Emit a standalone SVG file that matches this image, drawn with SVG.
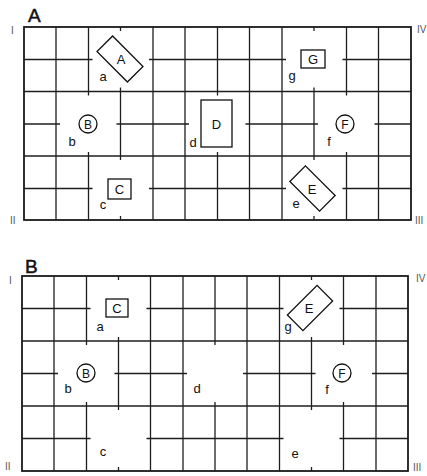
<svg xmlns="http://www.w3.org/2000/svg" width="427" height="476" viewBox="0 0 427 476">
<style>
.g line{stroke:#1e1e1e;stroke-width:1.3;fill:none}
.frame{stroke:#1a1a1a;stroke-width:1.8;fill:none}
.obj{stroke:#111;stroke-width:1.3;fill:#fff}
text{font-family:"Liberation Sans",Arial,sans-serif;fill:#111}
.lbl{font-size:13px;text-anchor:middle}
.ol{font-size:12px;text-anchor:middle}
.hd{font-size:19px;stroke:#111;stroke-width:0.5}
.rn{font-size:10px;fill:#555}
</style>
<rect width="427" height="476" fill="#fff"/>

<!-- Panel A -->
<g id="panelA">
<text class="hd" x="28" y="22">A</text>
<text class="rn" x="11" y="34">I</text>
<text class="rn" x="417" y="33">IV</text>
<text class="rn" x="10" y="224">II</text>
<text class="rn" x="415" y="224">III</text>
<g class="g" id="gridA">
<rect class="frame" x="24" y="27" width="387" height="193"/>
<line x1="56" y1="27" x2="56" y2="220"/>
<line x1="88.5" y1="27" x2="88.5" y2="95.5"/><line x1="88.5" y1="152" x2="88.5" y2="220"/>
<line x1="120.5" y1="27" x2="120.5" y2="31"/><line x1="120.5" y1="87.5" x2="120.5" y2="160"/><line x1="120.5" y1="216" x2="120.5" y2="220"/>
<line x1="153" y1="27" x2="153" y2="220"/>
<line x1="185" y1="27" x2="185" y2="220"/>
<line x1="217.5" y1="27" x2="217.5" y2="95.5"/><line x1="217.5" y1="152" x2="217.5" y2="220"/>
<line x1="249.5" y1="27" x2="249.5" y2="220"/>
<line x1="282" y1="27" x2="282" y2="220"/>
<line x1="314" y1="27" x2="314" y2="31"/><line x1="314" y1="87.5" x2="314" y2="160"/><line x1="314" y1="216" x2="314" y2="220"/>
<line x1="346.5" y1="27" x2="346.5" y2="95.5"/><line x1="346.5" y1="152" x2="346.5" y2="220"/>
<line x1="378.5" y1="27" x2="378.5" y2="220"/>
<line x1="24" y1="59.5" x2="92.5" y2="59.5"/><line x1="149" y1="59.5" x2="286" y2="59.5"/><line x1="342.5" y1="59.5" x2="411" y2="59.5"/>
<line x1="24" y1="91.5" x2="411" y2="91.5"/>
<line x1="24" y1="124" x2="60" y2="124"/><line x1="116.5" y1="124" x2="189" y2="124"/><line x1="245.5" y1="124" x2="318" y2="124"/><line x1="374.5" y1="124" x2="411" y2="124"/>
<line x1="24" y1="156" x2="411" y2="156"/>
<line x1="24" y1="188.5" x2="92.5" y2="188.5"/><line x1="149" y1="188.5" x2="286" y2="188.5"/><line x1="342.5" y1="188.5" x2="411" y2="188.5"/>
</g>
<g id="A-objA"><rect class="obj" x="-21.5" y="-11" width="43" height="22" transform="translate(120,59) rotate(45)"/><text class="lbl" x="121" y="64">A</text></g>
<g id="A-objG"><rect class="obj" x="301" y="50" width="24" height="18"/><text class="lbl" x="313" y="64">G</text></g>
<g id="A-objB"><circle class="obj" cx="88" cy="124" r="9"/><text class="ol" x="88" y="128.5">B</text></g>
<g id="A-objD"><rect class="obj" x="201" y="100" width="31" height="47"/><text class="lbl" x="216.5" y="129">D</text></g>
<g id="A-objF"><circle class="obj" cx="345" cy="124" r="9"/><text class="ol" x="345" y="128.5">F</text></g>
<g id="A-objC"><rect class="obj" x="108" y="179" width="23" height="20"/><text class="lbl" x="119.5" y="194">C</text></g>
<g id="A-objE"><rect class="obj" x="-21" y="-11" width="42" height="22" transform="translate(312.5,188.5) rotate(45)"/><text class="lbl" x="312" y="193.5">E</text></g>
<text class="lbl" x="103" y="81">a</text>
<text class="lbl" x="292" y="80">g</text>
<text class="lbl" x="72" y="146">b</text>
<text class="lbl" x="193" y="147">d</text>
<text class="lbl" x="329" y="146">f</text>
<text class="lbl" x="103" y="209">c</text>
<text class="lbl" x="296" y="208">e</text>
</g>

<!-- Panel B -->
<g id="panelB">
<text class="hd" x="25" y="273">B</text>
<text class="rn" x="9" y="284">I</text>
<text class="rn" x="416" y="282">IV</text>
<text class="rn" x="5" y="470">II</text>
<text class="rn" x="413" y="471">III</text>
<g class="g" id="gridB">
<rect class="frame" x="22" y="276" width="386" height="195"/>
<line x1="54" y1="276" x2="54" y2="471"/>
<line x1="86.5" y1="276" x2="86.5" y2="345"/><line x1="86.5" y1="402" x2="86.5" y2="471"/>
<line x1="118.5" y1="276" x2="118.5" y2="280"/><line x1="118.5" y1="337" x2="118.5" y2="410"/><line x1="118.5" y1="467" x2="118.5" y2="471"/>
<line x1="150.5" y1="276" x2="150.5" y2="471"/>
<line x1="183" y1="276" x2="183" y2="471"/>
<line x1="215" y1="276" x2="215" y2="345"/><line x1="215" y1="402" x2="215" y2="471"/>
<line x1="247" y1="276" x2="247" y2="471"/>
<line x1="279.5" y1="276" x2="279.5" y2="471"/>
<line x1="311.5" y1="276" x2="311.5" y2="280"/><line x1="311.5" y1="337" x2="311.5" y2="410"/><line x1="311.5" y1="467" x2="311.5" y2="471"/>
<line x1="343.5" y1="276" x2="343.5" y2="345"/><line x1="343.5" y1="402" x2="343.5" y2="471"/>
<line x1="376" y1="276" x2="376" y2="471"/>
<line x1="22" y1="308.5" x2="90.5" y2="308.5"/><line x1="146.5" y1="308.5" x2="283.5" y2="308.5"/><line x1="339.5" y1="308.5" x2="408" y2="308.5"/>
<line x1="22" y1="341" x2="408" y2="341"/>
<line x1="22" y1="373.5" x2="58" y2="373.5"/><line x1="114.5" y1="373.5" x2="187" y2="373.5"/><line x1="243" y1="373.5" x2="315.5" y2="373.5"/><line x1="372" y1="373.5" x2="408" y2="373.5"/>
<line x1="22" y1="406" x2="408" y2="406"/>
<line x1="22" y1="438.5" x2="90.5" y2="438.5"/><line x1="146.5" y1="438.5" x2="283.5" y2="438.5"/><line x1="339.5" y1="438.5" x2="408" y2="438.5"/>
</g>
<g id="B-objC"><rect class="obj" x="106" y="299" width="22" height="18"/><text class="lbl" x="117" y="313">C</text></g>
<g id="B-objE"><rect class="obj" x="-21" y="-11" width="42" height="22" transform="translate(310,308) rotate(-45)"/><text class="lbl" x="309" y="313">E</text></g>
<g id="B-objB"><circle class="obj" cx="86" cy="373" r="9"/><text class="ol" x="86" y="377.5">B</text></g>
<g id="B-objF"><circle class="obj" cx="342" cy="373" r="9"/><text class="ol" x="342" y="377.5">F</text></g>
<text class="lbl" x="100" y="331">a</text>
<text class="lbl" x="288" y="331">g</text>
<text class="lbl" x="68" y="393">b</text>
<text class="lbl" x="197" y="393">d</text>
<text class="lbl" x="327" y="394">f</text>
<text class="lbl" x="103" y="456">c</text>
<text class="lbl" x="295" y="458">e</text>
</g>
</svg>
